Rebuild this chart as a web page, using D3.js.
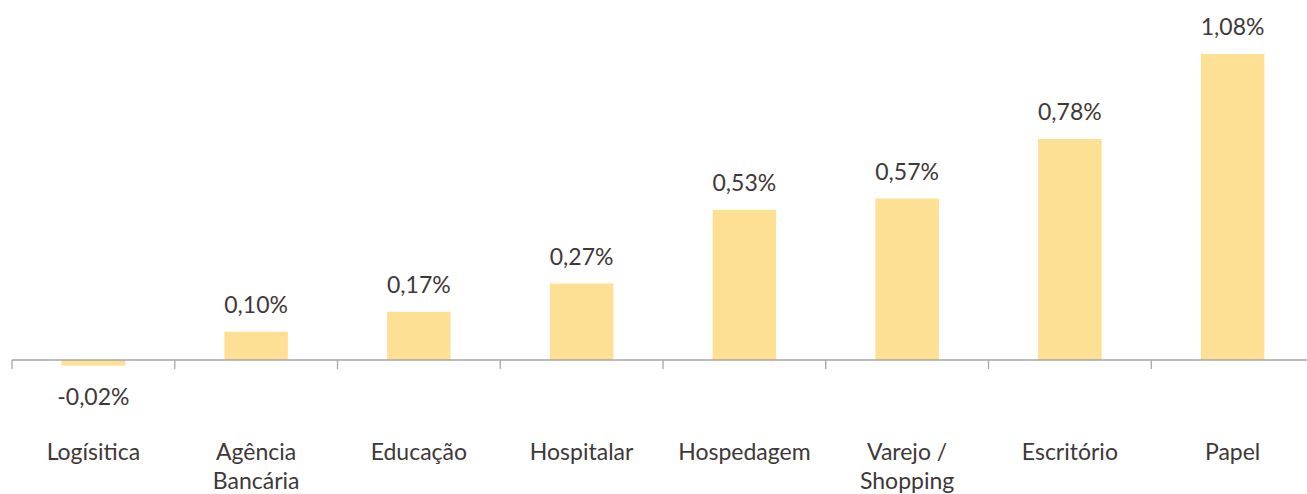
<!DOCTYPE html>
<html>
<head>
<meta charset="utf-8">
<script src="https://cdn.jsdelivr.net/npm/d3@7"></script>
<style>
	body { margin: 0; background: #fff; }
	text { font-family: Lato, 'Open Sans', sans-serif; fill: #403838; }
</style>
</head>
<body>
<div id="chart"></div>
<script>
var categories = ['Logísitica', 'Agência Bancária', 'Educação', 'Hospitalar', 'Hospedagem', 'Varejo / Shopping', 'Escritório', 'Papel'];
var values = [-0.02, 0.10, 0.17, 0.27, 0.53, 0.57, 0.78, 1.08];

var svgWidth = 1307;
var svgHeight = 494;

//поля графика
var left = 12, right = 1314, zeroY = 360, topY = 54;

var svg = d3.select('#chart')
	.append('svg')
	.attr('width', svgWidth)
	.attr('height', svgHeight);

var x = d3.scaleBand()
	.domain(categories)
	.range([left, right])
	.paddingInner(0.61)
	.paddingOuter(0.305);

var y = d3.scaleLinear()
	.domain([0, 1.08])
	.range([zeroY, topY]);

//столбцы
svg.selectAll('.bar')
	.data(values)
	.enter()
	.append('rect')
	.attr('class', 'bar')
	.attr('x', function(d, i) { return x(categories[i]); })
	.attr('width', x.bandwidth())
	.attr('y', function(d) { return Math.min(y(d), y(0)); })
	.attr('height', function(d) { return Math.abs(y(d) - y(0)); })
	.style('fill', '#fee095');

//ось
var step = x.step();
var ticks = categories.map(function(c, i) { return left + i * step; });
ticks.push(right);

var axis = svg.append('g').attr('class', 'axis');
axis.append('line')
	.attr('x1', left).attr('x2', right)
	.attr('y1', y(0)).attr('y2', y(0))
	.style('stroke', '#a6a6a6').style('stroke-width', 1.3);
axis.selectAll('.tick')
	.data(ticks)
	.enter()
	.append('line')
	.attr('x1', function(d) { return d; })
	.attr('x2', function(d) { return d; })
	.attr('y1', y(0))
	.attr('y2', y(0) + 9)
	.style('stroke', '#a6a6a6').style('stroke-width', 1.3);

//подписи значений
svg.selectAll('.val')
	.data(values)
	.enter()
	.append('text')
	.attr('class', 'val')
	.attr('x', function(d, i) { return x(categories[i]) + x.bandwidth() / 2; })
	.attr('y', function(d) { return d >= 0 ? y(d) - 19 : y(0) + 45; })
	.style('text-anchor', 'middle')
	.style('font-size', '23px')
	.text(function(d) { return d.toFixed(2).replace('.', ',') + '%'; });

//подписи категорий
var cat = svg.selectAll('.cat')
	.data(categories)
	.enter()
	.append('text')
	.attr('class', 'cat')
	.attr('x', function(d) { return x(d) + x.bandwidth() / 2; })
	.attr('y', 460)
	.style('text-anchor', 'middle')
	.style('font-size', '23px');

cat.each(function(d) {
	var el = d3.select(this);
	var cx = x(d) + x.bandwidth() / 2;
	var words = d.split(' ');
	var lines = [];
	var cur = '';
	var probe = el.append('tspan');
	words.forEach(function(w) {
		var t = cur ? cur + ' ' + w : w;
		probe.text(t);
		if (cur && probe.node().getComputedTextLength() > step * 0.75) {
			lines.push(cur);
			cur = w;
		} else {
			cur = t;
		}
	});
	lines.push(cur);
	probe.remove();
	lines.forEach(function(l, i) {
		el.append('tspan')
			.attr('x', cx)
			.attr('dy', i === 0 ? 0 : 29)
			.text(l);
	});
});
</script>
</body>
</html>
